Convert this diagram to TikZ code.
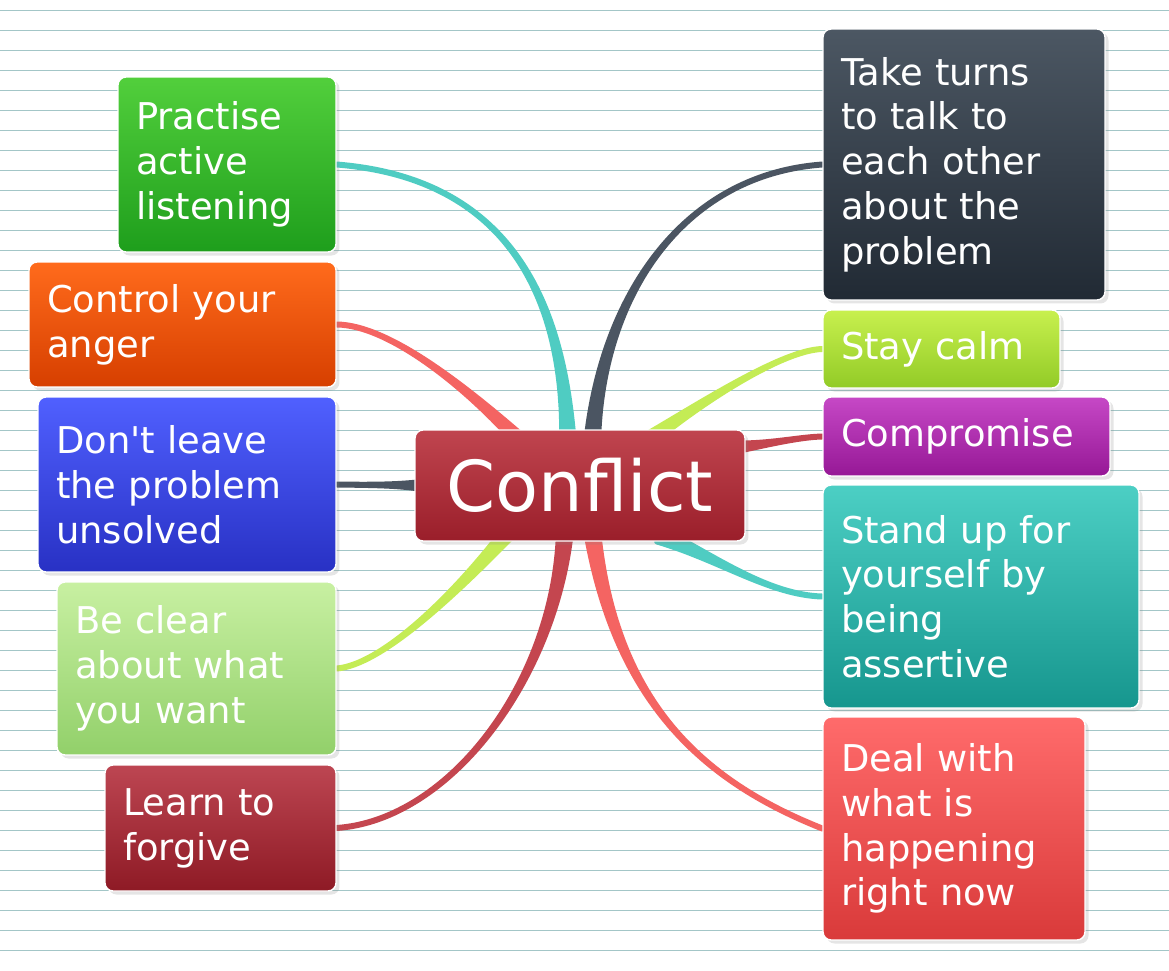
\documentclass[tikz,border=0pt]{standalone}
\usepackage{fontspec}
\setmainfont{DejaVu Sans}
\usetikzlibrary{calc,shadows}

% box colours (top / bottom)
\definecolor{confT}{HTML}{C0454F}\definecolor{confB}{HTML}{9A1E2A}
\definecolor{pracT}{HTML}{52CF3C}\definecolor{pracB}{HTML}{1E9E1C}
\definecolor{ctrlT}{HTML}{FF6B1C}\definecolor{ctrlB}{HTML}{D63F00}
\definecolor{dontT}{HTML}{5060FF}\definecolor{dontB}{HTML}{2831C4}
\definecolor{clearT}{HTML}{C8F0A2}\definecolor{clearB}{HTML}{92D06A}
\definecolor{learnT}{HTML}{BD4652}\definecolor{learnB}{HTML}{8E1A25}
\definecolor{takeT}{HTML}{4C5763}\definecolor{takeB}{HTML}{212A34}
\definecolor{calmT}{HTML}{C8F04E}\definecolor{calmB}{HTML}{92CB27}
\definecolor{compT}{HTML}{C648C6}\definecolor{compB}{HTML}{961896}
\definecolor{standT}{HTML}{4CCFC4}\definecolor{standB}{HTML}{16968E}
\definecolor{dealT}{HTML}{FF6B6B}\definecolor{dealB}{HTML}{D93A3A}
% connector colours
\definecolor{lkTeal}{HTML}{4FCCC2}
\definecolor{lkCoral}{HTML}{F46462}
\definecolor{lkSlate}{HTML}{4B5562}
\definecolor{lkLime}{HTML}{C4EC55}
\definecolor{lkRed}{HTML}{C4464F}
\definecolor{rule}{HTML}{A3C6C7}

\pgfdeclarelayer{lines}
\pgfdeclarelayer{links}
\pgfsetlayers{lines,links,main}

\tikzset{
  idea/.style 2 args={draw=white, line width=0.8pt, rounded corners=0.16cm,
    top color=#1, bottom color=#2, text=white, align=left, inner xsep=0.36cm,
    font=\fontsize{21}{25.5}\selectfont,
    drop shadow={shadow xshift=2pt, shadow yshift=-2pt, opacity=0.2}},
  ruling/.style={draw=rule, line width=0.45pt},
}

% tapered branch: colour, start offset from conf, half width, c1, c2, end
\newcommand{\branch}[6]{%
  \filldraw[#1, line width=3.4pt, line join=round]
    ($(conf)+#2+#3$) .. controls #4 and #5 .. (#6)
    .. controls #5 and #4 .. ($(conf)+#2-#3$) -- cycle;}

\begin{document}
\begin{tikzpicture}[x=0.02cm, y=-0.02cm]
    \useasboundingbox (0,0) rectangle (1169,970);

    % Ruled paper
    \begin{pgfonlayer}{lines}
        \fill[white] (0,0) rectangle (1169,970);
        \foreach \y in {10,30,...,950}
            \draw[ruling] (0,\y) -- (1169,\y);
    \end{pgfonlayer}

    % Central idea
    \node[idea={confT}{confB}, align=center, minimum width=6.6cm, minimum height=2.22cm,
          font=\fontsize{40}{46}\selectfont] (conf) at (580,485.5) {Conflict};

    % Left side
    \node[idea={pracT}{pracB}, text width=3.64cm, minimum height=3.5cm] (prac) at (227,164.5)
        {Practise\\active\\listening};
    \node[idea={ctrlT}{ctrlB}, text width=5.42cm, minimum height=2.5cm] (ctrl) at (182.5,324.5)
        {Control your\\anger};
    \node[idea={dontT}{dontB}, text width=5.24cm, minimum height=3.5cm] (dont) at (187,484.5)
        {Don\textquotesingle t leave\\the problem\\unsolved};
    \node[idea={clearT}{clearB}, text width=4.86cm, minimum height=3.46cm] (clear) at (196.5,668.5)
        {Be clear\\about what\\you want};
    \node[idea={learnT}{learnB}, text width=3.9cm, minimum height=2.52cm] (learn) at (220.5,828)
        {Learn to\\forgive};

    % Right side
    \node[idea={takeT}{takeB}, text width=4.92cm, minimum height=5.42cm] (take) at (964,164.5)
        {Take turns\\to talk to\\each other\\about the\\problem};
    \node[idea={calmT}{calmB}, text width=4.02cm, minimum height=1.56cm] (calm) at (941.5,349)
        {Stay calm};
    \node[idea={compT}{compB}, text width=5.02cm, minimum height=1.58cm] (comp) at (966.5,436.5)
        {Compromise};
    \node[idea={standT}{standB}, text width=5.6cm, minimum height=4.46cm] (stand) at (981,596.5)
        {Stand up for\\yourself by\\being\\assertive};
    \node[idea={dealT}{dealB}, text width=4.52cm, minimum height=4.46cm] (deal) at (954,828.5)
        {Deal with\\what is\\happening\\right now};

    % Branches
    \begin{pgfonlayer}{links}
        \branch{lkTeal}{(-12,-40)}{(6,0)}{(565,330)}{(530,180)}{prac.east}
        \branch{lkCoral}{(-55,-40)}{(4,-4)}{(470,390)}{(390,325)}{ctrl.east}
        \branch{lkSlate}{(-155,0)}{(0,4)}{(400,485)}{(370,485)}{dont.east}
        \branch{lkLime}{(-70,45)}{(4,4)}{(450,600)}{(380,665)}{clear.east}
        \branch{lkRed}{(-15,45)}{(6,0)}{(555,680)}{(450,820)}{learn.east}
        \branch{lkSlate}{(12,-40)}{(6,0)}{(600,300)}{(680,175)}{take.west}
        \branch{lkLime}{(60,-40)}{(4,5)}{(690,410)}{(780,350)}{calm.west}
        \branch{lkRed}{(155,-38)}{(0,4)}{(770,444)}{(800,437)}{comp.west}
        \branch{lkTeal}{(80,50)}{(-3,6)}{(720,560)}{(770,595)}{stand.west}
        \branch{lkCoral}{(12,45)}{(6,0)}{(615,700)}{(700,780)}{deal.west}
    \end{pgfonlayer}
\end{tikzpicture}
\end{document}
